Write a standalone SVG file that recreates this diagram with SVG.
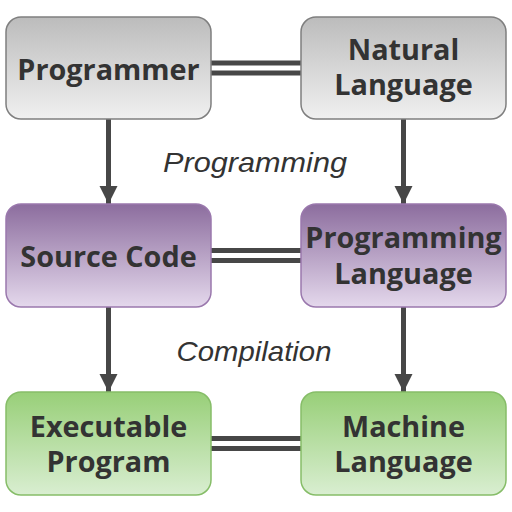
<svg xmlns="http://www.w3.org/2000/svg" width="512" height="512" viewBox="0 0 512 512">
<defs>
<linearGradient id="gGray" x1="0" y1="0" x2="0" y2="1"><stop offset="0" stop-color="#bcbcbc"/><stop offset="1" stop-color="#f0f0f0"/></linearGradient>
<linearGradient id="gPurple" x1="0" y1="0" x2="0" y2="1"><stop offset="0" stop-color="#8c6d9e"/><stop offset="1" stop-color="#e4d8ec"/></linearGradient>
<linearGradient id="gGreen" x1="0" y1="0" x2="0" y2="1"><stop offset="0" stop-color="#98cf78"/><stop offset="1" stop-color="#d9eed1"/></linearGradient>
<marker id="arr" markerUnits="userSpaceOnUse" markerWidth="18" markerHeight="24" viewBox="0 0 18 24" refX="18" refY="9" orient="auto">
<path d="M0,0 L18,9 L0,18 Z" fill="#474747"/>
</marker>
</defs>
<style>
.box{stroke-width:1.5}
.gray{fill:url(#gGray);stroke:#7f7f7f}
.purple{fill:url(#gPurple);stroke:#9a78ad}
.green{fill:url(#gGreen);stroke:#86bd68}
.t{font-family:"Open Sans","Noto Sans",sans-serif;font-weight:bold;font-size:28.8px;fill:#333;text-anchor:middle}
.lbl{font-family:"Liberation Sans",Arial,sans-serif;font-style:italic;font-size:28px;fill:#333;text-anchor:middle}
.v{stroke:#474747;stroke-width:5;fill:none}
.dOut{stroke:#474747;stroke-width:15;fill:none}
.dIn{stroke:#fff;stroke-width:5;fill:none}
</style>
<rect width="512" height="512" fill="#fff"/>
<g id="connectors">
<line class="dOut" x1="211" y1="68" x2="301" y2="68"/>
<line class="dIn" x1="211" y1="68" x2="301" y2="68"/>
<line class="dOut" x1="211" y1="255.5" x2="301" y2="255.5"/>
<line class="dIn" x1="211" y1="255.5" x2="301" y2="255.5"/>
<line class="dOut" x1="211" y1="443.5" x2="301" y2="443.5"/>
<line class="dIn" x1="211" y1="443.5" x2="301" y2="443.5"/>
<line class="v" x1="108.5" y1="119" x2="108.5" y2="204" marker-end="url(#arr)"/>
<line class="v" x1="403.5" y1="119" x2="403.5" y2="204" marker-end="url(#arr)"/>
<line class="v" x1="108.5" y1="307" x2="108.5" y2="392" marker-end="url(#arr)"/>
<line class="v" x1="403.5" y1="307" x2="403.5" y2="392" marker-end="url(#arr)"/>
</g>
<g id="programmer"><rect class="box gray" x="6" y="17" width="205" height="102" rx="15"/><text class="t" x="108.5" y="79.5">Programmer</text></g>
<g id="natural-language"><rect class="box gray" x="301" y="17" width="205" height="102" rx="15"/><text class="t" x="403.5" y="59.5">Natural<tspan x="403.5" dy="35.5">Language</tspan></text></g>
<g id="source-code"><rect class="box purple" x="6" y="204" width="205" height="103" rx="15"/><text class="t" x="108.5" y="266.5">Source Code</text></g>
<g id="programming-language"><rect class="box purple" x="301" y="204" width="205" height="103" rx="15"/><text class="t" x="403.5" y="248">Programming<tspan x="403.5" dy="35.5">Language</tspan></text></g>
<g id="executable-program"><rect class="box green" x="6" y="392" width="205" height="103" rx="15"/><text class="t" x="108.5" y="436.5">Executable<tspan x="108.5" dy="35.5">Program</tspan></text></g>
<g id="machine-language"><rect class="box green" x="301" y="392" width="205" height="103" rx="15"/><text class="t" x="403.5" y="436.5">Machine<tspan x="403.5" dy="35.5">Language</tspan></text></g>
<g id="labels">
<text class="lbl" x="255" y="172" textLength="184" lengthAdjust="spacingAndGlyphs">Programming</text>
<text class="lbl" x="254" y="361" textLength="155" lengthAdjust="spacingAndGlyphs">Compilation</text>
</g>
</svg>
